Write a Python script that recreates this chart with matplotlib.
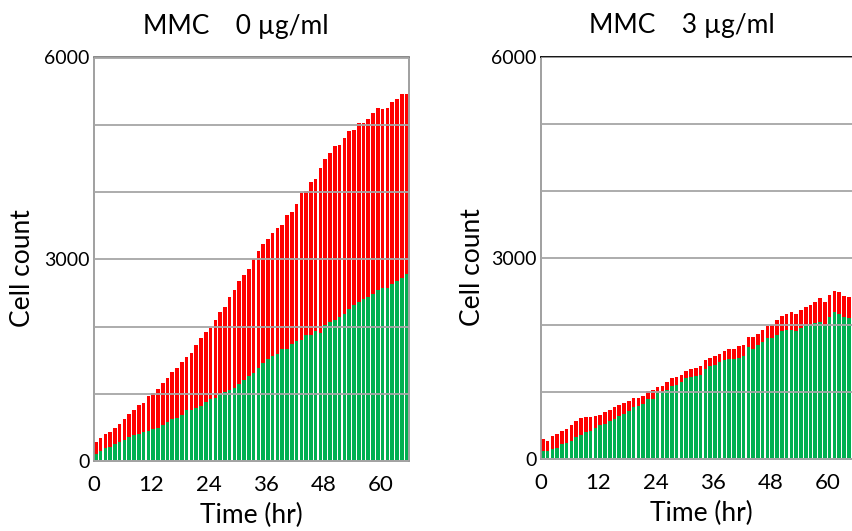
import numpy as np
import matplotlib
matplotlib.use('Agg')
import matplotlib.pyplot as plt
from matplotlib.ticker import MultipleLocator

plt.rcParams['font.family'] = ['Lato', 'Noto Sans CJK JP', 'DejaVu Sans']

hours = np.arange(66)

# MMC 0 ug/ml : green part and total (green + red)
green_0 = [109, 149, 188, 208, 248, 283, 317, 357, 382, 407, 426, 446, 481, 496, 531, 585,
           620, 645, 679, 754, 754, 784, 818, 878, 918, 942, 992, 1027, 1051, 1091, 1151, 1210,
           1260, 1309, 1384, 1458, 1513, 1557, 1597, 1666, 1666, 1736, 1780, 1805, 1875, 1875,
           1929, 1904, 2018, 2063, 2103, 2147, 2192, 2261, 2316, 2366, 2410, 2445, 2490, 2540,
           2579, 2579, 2634, 2678, 2728, 2787]
total_0 = [283, 342, 397, 431, 491, 545, 620, 699, 754, 828, 868, 962, 1017, 1076, 1155, 1240,
           1319, 1379, 1468, 1547, 1607, 1721, 1835, 1924, 1984, 2103, 2212, 2291, 2445, 2540,
           2678, 2768, 2862, 3011, 3125, 3224, 3298, 3392, 3471, 3511, 3660, 3699, 3828, 3987,
           4017, 4151, 4195, 4359, 4498, 4573, 4681, 4701, 4800, 4914, 4929, 5029, 5029, 5088,
           5182, 5252, 5237, 5252, 5331, 5386, 5450, 5455]

# MMC 3 ug/ml
green_3 = [119, 119, 149, 164, 224, 238, 273, 328, 363, 407, 422, 462, 502, 527, 561, 601,
           646, 675, 710, 770, 795, 824, 894, 894, 983, 993, 1023, 1093, 1108, 1147, 1207, 1222,
           1242, 1257, 1341, 1381, 1396, 1440, 1470, 1490, 1490, 1505, 1530, 1664, 1639, 1704,
           1738, 1798, 1798, 1853, 1912, 1927, 1927, 1912, 1952, 2002, 2002, 2027, 2041, 2002,
           2111, 2185, 2165, 2111, 2100, 2120]
total_3 = [298, 273, 338, 373, 412, 452, 502, 571, 606, 626, 621, 646, 661, 700, 735, 775,
           805, 834, 869, 914, 909, 944, 1008, 1023, 1068, 1083, 1142, 1207, 1222, 1257, 1316,
           1341, 1356, 1381, 1470, 1505, 1530, 1565, 1604, 1639, 1639, 1679, 1704, 1818, 1813,
           1868, 1927, 1977, 2002, 2066, 2136, 2161, 2185, 2161, 2215, 2260, 2290, 2334, 2399,
           2334, 2449, 2508, 2488, 2434, 2420, 2450]

titles = ['MMC\u30000 µg/ml', 'MMC\u30003 µg/ml']

GREEN = '#00B050'
RED = '#FF0000'
GRID = '#A6A6A6'

fig = plt.figure(figsize=(8.53, 5.31), dpi=100)
ax1 = fig.add_axes([94 / 853, 70 / 531, 315.5 / 853, 403.5 / 531])
ax2 = fig.add_axes([541 / 853, 72 / 531, 315.5 / 853, 402.5 / 531])


def draw(ax, green, total, title, top_color):
    green = np.array(green)
    red = np.array(total) - green
    ax.bar(hours, green, width=0.75, align='edge', color=GREEN, zorder=2)
    ax.bar(hours, red, width=0.75, align='edge', bottom=green, color=RED, zorder=2)
    ax.set_xlim(0, 66)
    ax.set_ylim(0, 6000)
    ax.yaxis.set_major_locator(MultipleLocator(3000))
    ax.yaxis.set_minor_locator(MultipleLocator(1000))
    ax.xaxis.set_major_locator(MultipleLocator(12))
    ax.grid(True, axis='y', which='both', color=GRID, lw=1.3, zorder=3)
    ax.set_axisbelow(False)
    ax.tick_params(axis='both', which='both', length=0)
    ax.tick_params(axis='y', pad=3, labelsize=14)
    ax.tick_params(axis='x', pad=10, labelsize=16)
    for s in ['left', 'bottom', 'right']:
        ax.spines[s].set_color('#999999')
        ax.spines[s].set_linewidth(1.3)
    ax.spines['top'].set_color(top_color)
    ax.spines['top'].set_linewidth(1.3)
    ax.set_ylabel('Cell count', fontsize=19)
    ax.set_xlabel('Time (hr)', fontsize=19)
    ax.text(0.448, 1.076, title, transform=ax.transAxes, ha='center', va='center', fontsize=19)


draw(ax1, green_0, total_0, titles[0], '#7F7F7F')
draw(ax2, green_3, total_3, titles[1], '#000000')
ax2.spines['right'].set_visible(False)

ax1.yaxis.set_label_coords(-0.187, 0.478)
ax2.yaxis.set_label_coords(-0.178, 0.478)
ax1.xaxis.set_label_coords(0.498, -0.105)
ax2.xaxis.set_label_coords(0.508, -0.105)

fig.savefig('out.png', dpi=100)
